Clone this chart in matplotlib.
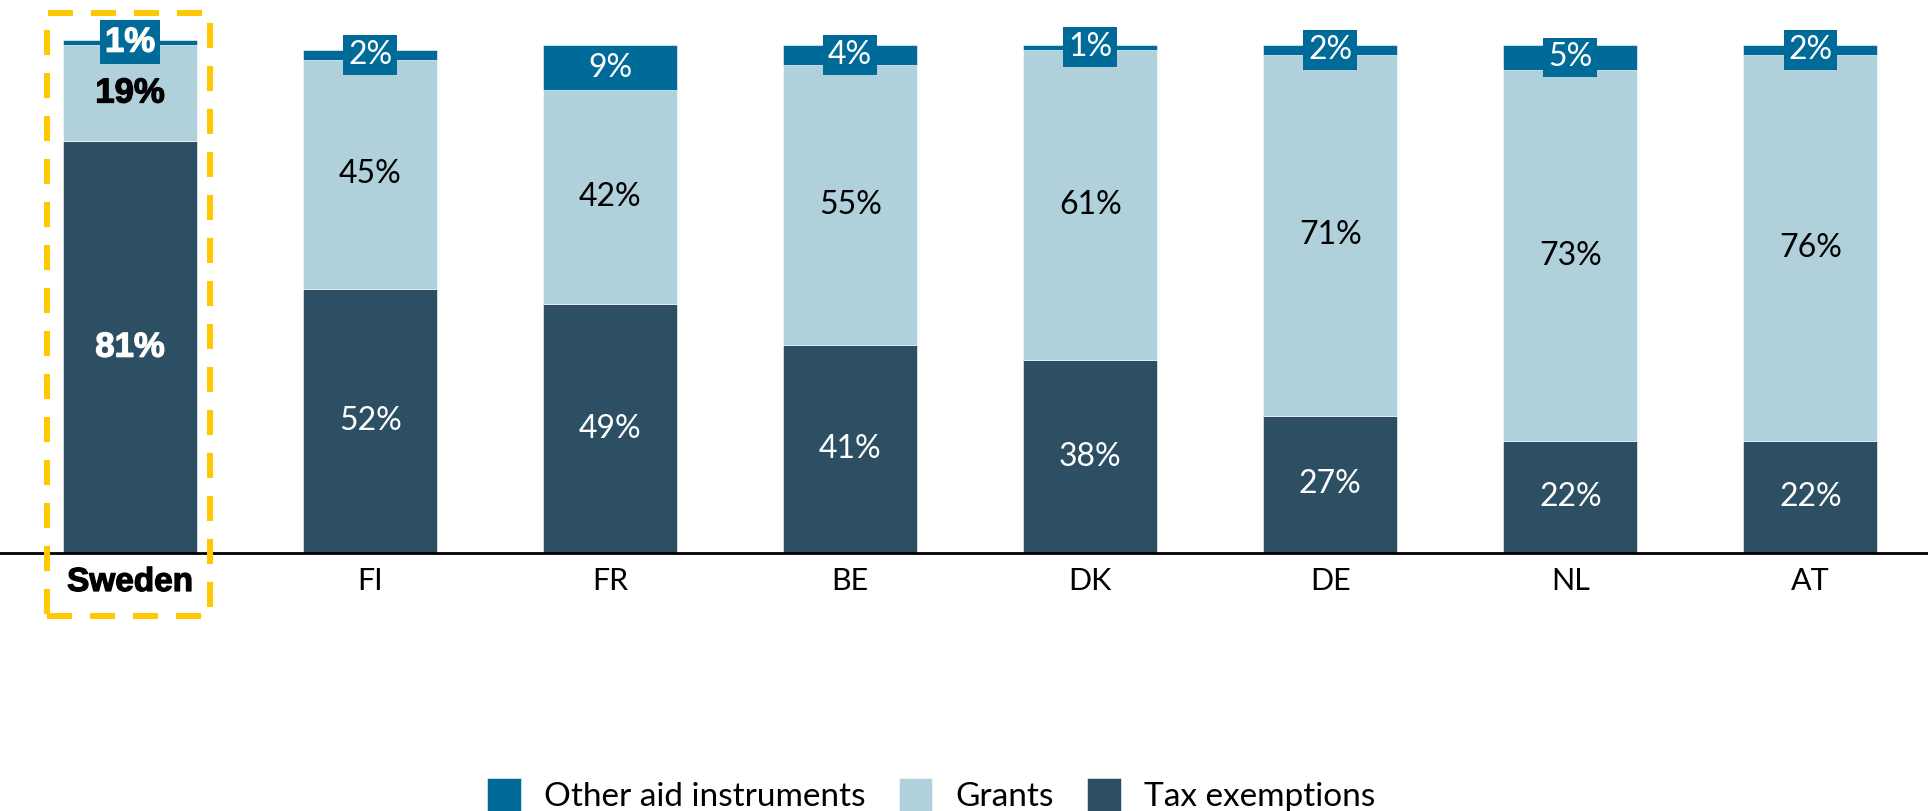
import matplotlib
matplotlib.use("Agg")
import matplotlib.pyplot as plt
import matplotlib.patheffects as pe
from matplotlib.patches import Rectangle
import numpy as np

countries = ["Sweden", "FI", "FR", "BE", "DK", "DE", "NL", "AT"]
tax = [81, 52, 49, 41, 38, 27, 22, 22]
grants = [19, 45, 42, 55, 61, 71, 73, 76]
other = [1, 2, 9, 4, 1, 2, 5, 2]

c_tax = "#2c4f64"
c_grants = "#b0d0db"
c_other = "#006b98"
font = "Lato"

fig = plt.figure(figsize=(19.28, 8.11), dpi=100)
ax = fig.add_axes([0, 0.318, 1, 0.677])

x = np.arange(len(countries))
w = 0.558
tax = np.array(tax)
grants = np.array(grants)
other = np.array(other)

ax.bar(x, tax, w, color=c_tax, label="Tax exemptions", edgecolor="white", linewidth=0.4)
ax.bar(x, grants, w, bottom=tax, color=c_grants, label="Grants", edgecolor="white", linewidth=0.4)
ax.bar(x, other, w, bottom=tax + grants, color=c_other, label="Other aid instruments",
       edgecolor="white", linewidth=0.4)


def heavy(color):
    # thicken the bold face a little
    return [pe.withStroke(linewidth=0.9, foreground=color)]


for i in range(len(countries)):
    bold = i == 0
    kw = dict(ha="center", va="center", fontsize=23)
    if bold:
        kw.update(family="Liberation Sans", fontweight="bold", fontsize=25)
    else:
        kw.update(family=font)
    t1 = ax.text(x[i], tax[i] / 2, f"{tax[i]}%", color="white", **kw)
    t2 = ax.text(x[i], tax[i] + grants[i] / 2, f"{grants[i]}%", color="black", **kw)
    t3 = ax.text(x[i], tax[i] + grants[i] + other[i] / 2, f"{other[i]}%", color="white",
                 bbox=dict(boxstyle="square,pad=0.15", fc=c_other, ec="none"), **kw)
    if bold:
        t1.set_path_effects(heavy("white"))
        t2.set_path_effects(heavy("black"))
        t3.set_path_effects(heavy("white"))

ax.set_xlim(-0.542, 7.49)
ax.set_ylim(0, 108)
for s in ["top", "right", "left"]:
    ax.spines[s].set_visible(False)
ax.spines["bottom"].set_linewidth(2)
ax.set_yticks([])
ax.set_xticks(x)
ax.set_xticklabels(countries, fontsize=22, family=font)
ax.tick_params(axis="x", length=0, pad=10)
lbl = ax.get_xticklabels()[0]
lbl.set_family("Liberation Sans")
lbl.set_fontweight("bold")
lbl.set_fontsize(24)
lbl.set_path_effects(heavy("black"))

# dashed highlight around the first column
fig.patches.append(Rectangle((0.0244, 0.2404), 0.0845, 0.7435, transform=fig.transFigure,
                             fill=False, edgecolor="#ffc800", linewidth=4.3,
                             linestyle=(0, (4.2, 3)), clip_on=False))

h, l = ax.get_legend_handles_labels()
fig.legend(h[::-1], l[::-1], loc="center", bbox_to_anchor=(0.483, 0.02), ncol=3,
           frameon=False, prop=dict(family=font, size=24), handlelength=1.0,
           handleheight=1.2, handletextpad=0.7, columnspacing=1.0)

fig.savefig("out.png", dpi=100)
